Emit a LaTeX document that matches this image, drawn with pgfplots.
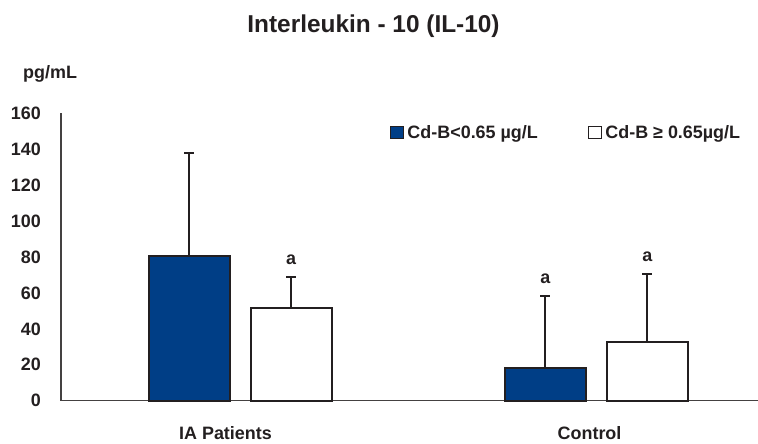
\documentclass[border=0pt]{standalone}
\usepackage{fontspec}
\setmainfont{Liberation Sans}
\usepackage{pgfplots}
\pgfplotsset{compat=1.18}
\definecolor{barblue}{RGB}{0,62,134}
\definecolor{ink}{RGB}{35,31,32}
\newcommand{\fs}[1]{\fontsize{#1}{#1}\selectfont\bfseries}
\begin{document}
\begin{tikzpicture}
\useasboundingbox (-61bp,-43.3bp) rectangle (697bp,400.7bp);
\begin{axis}[
  at={(0,0)}, anchor=south west,
  scale only axis, width=697bp, height=287.2bp,
  xmin=-0.5024, xmax=1.4538, ymin=0, ymax=160,
  axis x line=bottom, axis y line=left,
  axis line style={-, line width=1.5bp, draw=ink!85},
  major tick length=0pt,
  ytick={0,20,...,160},
  xtick={-0.0407,0.981}, xticklabels={IA Patients, Control},
  /pgf/number format/assume math mode=true,
  ticklabel style={font=\fs{18}, text=ink},
  yticklabel style={anchor=east, inner sep=0pt, xshift=-20bp},
  xticklabel style={anchor=north, inner sep=0pt, yshift=-26bp},
  ybar=21bp, bar width=81bp,
  legend columns=2,
  legend cell align=left,
  legend image code/.code={\draw[#1,line width=1.5bp] (0bp,-6bp) rectangle (13bp,6bp);},
  legend style={draw=none, fill=none, at={(0.472,0.934)}, anchor=west,
    inner sep=0pt, outer sep=0pt, font=\fs{18}, text=ink,
    nodes={inner sep=0pt}, column sep=3bp,
    /tikz/every even column/.append style={column sep=50bp}},
  clip=false,
]
\addplot[fill=barblue, draw=ink, line width=2bp,
  error bars/.cd, y dir=plus, y explicit,
  error bar style={line width=2bp, draw=ink},
  error mark options={rotate=90, line width=2bp, mark size=5bp, draw=ink}]
  coordinates {(0,80.8) +- (0,57.0) (1,18.0) +- (0,40.5)};
\addplot[fill=white, draw=ink, line width=2bp,
  error bars/.cd, y dir=plus, y explicit,
  error bar style={line width=2bp, draw=ink},
  error mark options={rotate=90, line width=2bp, mark size=5bp, draw=ink}]
  coordinates {(0,51.8) +- (0,17.3) (1,32.9) +- (0,37.5)};
\legend{Cd-B<0.65 µg/L, Cd-B ≥ 0.65µg/L}
\node[anchor=base, inner sep=0pt, font=\fs{18}, text=ink] at ([xshift=51bp,yshift=12.5bp]axis cs:0,69.1) {a};
\node[anchor=base, inner sep=0pt, font=\fs{18}, text=ink] at ([xshift=-51bp,yshift=12.5bp]axis cs:1,58.5) {a};
\node[anchor=base, inner sep=0pt, font=\fs{18}, text=ink] at ([xshift=51bp,yshift=12.5bp]axis cs:1,70.4) {a};
\end{axis}
\node[anchor=base, inner sep=0pt, font=\fs{24.5}, text=ink] at (312.5bp,367.7bp) {Interleukin - 10 (IL-10)};
\node[anchor=base west, inner sep=0pt, font=\fs{18}, text=ink] at (-38bp,321.7bp) {pg/mL};
\end{tikzpicture}
\end{document}
